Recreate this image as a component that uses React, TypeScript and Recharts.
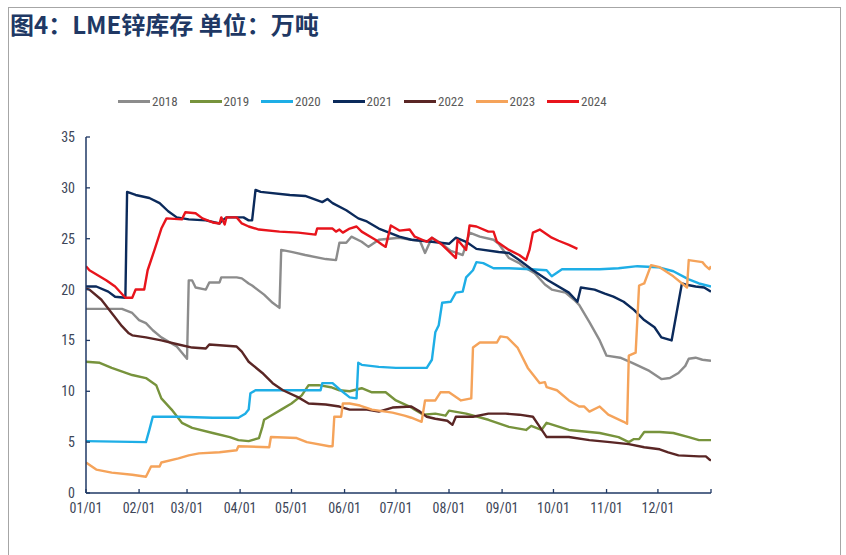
import React from "react";
import { LineChart, Line, XAxis, YAxis } from "recharts";

// ---- data: [day of year, value 万吨] ----
const s2018: number[][] = [[0,18.1],[21,18.1],[27,17.7],[31,17.0],[35,16.7],[39,16.0],[44,15.3],[53,14.4],[58,13.4],[59,13.2],[60,20.9],[62,20.9],[64,20.2],[70,20.0],[72,20.7],[78,20.7],[79,21.2],[88,21.2],[91,21.1],[95,20.6],[97,20.4],[104,19.5],[109,18.7],[113,18.2],[114,23.9],[120,23.7],[128,23.4],[140,23.0],[146,22.9],[148,24.6],[152,24.6],[155,25.2],[161,24.7],[165,24.2],[171,24.9],[183,25.1],[190,24.9],[195,24.8],[198,23.6],[202,25.1],[207,24.6],[213,23.8],[220,23.4],[224,25.6],[230,25.2],[238,24.9],[241,24.5],[247,23.1],[253,22.6],[256,22.2],[262,21.6],[268,20.5],[272,20.0],[280,19.7],[285,19.0],[288,18.5],[294,16.8],[300,15.0],[304,13.5],[312,13.3],[319,12.8],[329,12.0],[336,11.2],[341,11.3],[346,11.8],[350,12.5],[352,13.2],[356,13.3],[360,13.1],[365,13.0]];
const s2019: number[][] = [[0,12.9],[8,12.8],[15,12.3],[27,11.6],[35,11.3],[41,10.6],[44,9.3],[50,8.2],[56,6.9],[62,6.4],[74,5.9],[84,5.5],[89,5.2],[95,5.1],[101,5.4],[103,6.5],[104,7.2],[107,7.5],[114,8.2],[120,8.8],[126,9.6],[130,10.6],[136,10.6],[143,10.4],[148,10.1],[154,10.0],[161,10.3],[167,9.9],[175,9.9],[181,9.1],[189,8.5],[192,8.2],[197,7.7],[204,7.8],[210,7.6],[212,8.1],[222,7.8],[235,7.2],[247,6.5],[257,6.2],[260,6.6],[266,6.2],[269,6.9],[282,6.2],[300,5.9],[311,5.5],[317,5.0],[320,5.3],[323,5.3],[326,6.0],[335,6.0],[343,5.9],[352,5.5],[358,5.2],[365,5.2]];
const s2020: number[][] = [[0,5.1],[35,5.0],[37,6.2],[39,7.5],[54,7.5],[74,7.4],[89,7.4],[93,7.8],[95,8.2],[96,9.8],[99,10.1],[119,10.1],[128,10.1],[137,10.1],[138,10.8],[144,10.8],[148,10.2],[154,9.4],[158,9.3],[159,12.8],[161,12.6],[171,12.4],[181,12.3],[199,12.3],[202,13.1],[204,15.8],[206,16.5],[208,18.7],[213,18.8],[216,19.7],[220,19.8],[222,21.2],[226,21.9],[228,22.7],[232,22.6],[238,22.1],[247,22.1],[260,22.0],[269,21.9],[272,21.3],[278,22.0],[290,22.0],[300,22.0],[311,22.1],[322,22.3],[334,22.2],[343,21.8],[352,21.0],[358,20.6],[365,20.3]];
const s2021: number[][] = [[0,20.3],[6,20.3],[13,19.8],[17,19.3],[23,19.2],[24,29.6],[29,29.3],[37,29.0],[43,28.5],[48,27.7],[53,27.1],[60,26.9],[70,26.8],[78,26.5],[79,26.7],[82,27.1],[92,27.1],[95,26.8],[97,26.8],[99,29.8],[102,29.6],[119,29.3],[128,29.2],[138,28.6],[141,28.9],[144,28.5],[152,27.8],[159,27.0],[164,26.7],[171,26.0],[177,25.6],[183,25.2],[190,24.9],[202,24.7],[212,24.5],[216,25.1],[222,24.7],[228,24.0],[241,23.7],[247,23.6],[253,22.9],[261,21.9],[270,20.9],[282,19.7],[287,18.8],[289,20.2],[297,20.0],[303,19.6],[308,19.3],[314,18.8],[320,18.0],[326,17.0],[332,16.3],[336,15.3],[342,15.0],[348,20.6],[350,20.5],[356,20.3],[361,20.2],[365,19.8]];
const s2022: number[][] = [[0,20.1],[2,20.0],[9,19.0],[15,17.7],[21,16.4],[25,15.7],[27,15.5],[35,15.3],[44,15.0],[54,14.6],[62,14.3],[70,14.2],[72,14.6],[88,14.4],[91,13.9],[95,12.9],[103,11.8],[109,10.8],[115,10.1],[124,9.4],[130,8.8],[140,8.7],[148,8.5],[154,8.2],[164,8.2],[171,8.0],[179,8.4],[190,8.5],[195,8.0],[199,7.5],[204,7.3],[211,7.1],[214,6.7],[216,7.5],[226,7.5],[235,7.8],[245,7.8],[253,7.7],[261,7.5],[265,6.5],[269,5.5],[282,5.5],[294,5.2],[306,5.0],[317,4.8],[326,4.5],[335,4.3],[340,4.0],[346,3.7],[358,3.6],[362,3.6],[364,3.3],[365,3.2]];
const s2023: number[][] = [[0,3.0],[6,2.3],[15,2.0],[27,1.8],[35,1.6],[38,2.6],[43,2.6],[44,3.0],[54,3.4],[60,3.7],[66,3.9],[78,4.0],[88,4.2],[89,4.6],[107,4.5],[108,5.5],[123,5.4],[129,5.0],[142,4.6],[144,4.6],[145,7.5],[149,7.5],[150,8.8],[154,8.8],[160,8.6],[167,8.2],[179,7.9],[186,7.6],[190,7.4],[196,7.0],[198,9.1],[204,9.1],[207,9.9],[212,9.9],[219,9.1],[225,9.3],[226,14.3],[230,14.8],[240,14.8],[242,15.4],[246,15.3],[252,14.3],[258,12.3],[265,10.8],[268,10.9],[269,10.4],[275,10.1],[282,9.1],[288,8.5],[291,8.5],[294,8.0],[300,8.5],[305,7.7],[314,7.0],[316,6.8],[317,13.5],[321,13.8],[323,20.4],[326,20.6],[330,22.4],[335,22.2],[343,21.3],[351,20.2],[352,22.9],[360,22.7],[362,22.3],[364,22.0],[365,22.3]];
const s2024: number[][] = [[0,22.3],[2,21.9],[12,20.9],[17,20.3],[23,19.2],[27,19.2],[29,20.0],[34,20.0],[36,21.9],[40,23.9],[44,26.0],[47,27.0],[56,26.9],[58,27.6],[64,27.5],[68,27.0],[74,26.6],[78,26.5],[79,27.1],[81,26.4],[82,27.1],[88,27.1],[91,26.5],[95,26.2],[101,25.9],[113,25.7],[124,25.6],[134,25.4],[135,26.0],[144,26.0],[146,25.7],[148,25.9],[150,25.6],[154,26.0],[158,26.2],[161,25.7],[169,24.9],[173,24.4],[175,24.2],[178,26.3],[183,25.8],[189,25.9],[192,25.2],[199,24.7],[202,25.1],[208,24.4],[216,23.1],[217,24.9],[222,23.9],[224,26.3],[228,26.2],[235,25.7],[238,25.7],[240,24.7],[247,23.9],[253,23.4],[257,22.9],[259,23.9],[261,25.6],[265,25.9],[272,25.1],[276,24.8],[282,24.4],[287,24.0]];

const seriesNames = ["2018", "2019", "2020", "2021", "2022", "2023", "2024"];
const seriesValues = [s2018, s2019, s2020, s2021, s2022, s2023, s2024];
const seriesColors = ["#8c8c8c", "#77933c", "#1eaee6", "#0b2a5b", "#5a2625", "#f5a35a", "#e8141c"];

const monthTicks = [0, 31, 59, 90, 120, 151, 181, 212, 243, 273, 304, 334, 365];
const monthLabels = ["01/01", "02/01", "03/01", "04/01", "05/01", "06/01", "07/01", "08/01", "09/01", "10/01", "11/01", "12/01", ""];
const yTicks = [0, 5, 10, 15, 20, 25, 30, 35];

const title = "图4：LME锌库存 单位：万吨";

const AXIS = "#1f3864";
const LABEL = "#3d4658";
const NUMFONT = "'Liberation Sans Narrow', 'Roboto Condensed', 'Liberation Sans', Arial, sans-serif";

const XTick = (props: any) => {
  const { x, y, payload } = props;
  const idx = monthTicks.indexOf(payload.value);
  return (
    <g>
      <line x1={x} x2={x} y1={y} y2={y - 4} stroke={AXIS} strokeWidth={1.3} />
      <text x={x} y={y + 20} textAnchor="middle" fill={LABEL} fontSize={14} fontFamily={NUMFONT}>
        {monthLabels[idx]}
      </text>
    </g>
  );
};

const YTick = (props: any) => {
  const { x, y, payload } = props;
  return (
    <g>
      <line x1={x} x2={x + 4} y1={y} y2={y} stroke={AXIS} strokeWidth={1.3} />
      <text x={x - 11} y={y + 5} textAnchor="end" fill={LABEL} fontSize={14} fontFamily={NUMFONT}>
        {payload.value}
      </text>
    </g>
  );
};

export default function App() {
  const series = seriesNames.map((name, i) => ({
    name,
    color: seriesColors[i],
    data: seriesValues[i].map(([d, v]) => ({ d, v })),
  }));
  return (
    <div style={{ position: "absolute", left: 0, top: 0, width: 846, height: 555, background: "#fff", overflow: "hidden" }}>
      <div style={{ position: "absolute", left: 8, top: 7, width: 833, height: 560, border: "1px solid #a6a6a6", boxSizing: "border-box" }} />
      <div
        style={{
          position: "absolute",
          left: 10,
          top: 10,
          fontFamily: "'Noto Sans CJK SC', 'Noto Sans', sans-serif",
          fontWeight: 700,
          fontSize: 24,
          lineHeight: "27px",
          color: "#203864",
          whiteSpace: "nowrap",
        }}
      >
        {title}
      </div>
      <div style={{ position: "absolute", left: 118, top: 92, height: 18, display: "flex", alignItems: "center" }}>
        {series.map((s) => (
          <div key={s.name} style={{ width: 71.5, display: "flex", alignItems: "center" }}>
            <div style={{ width: 32, height: 3, background: s.color }} />
            <span style={{ marginLeft: 2, fontFamily: NUMFONT, fontSize: 13, color: "#595959" }}>{s.name}</span>
          </div>
        ))}
      </div>
      <div style={{ position: "absolute", left: 0, top: 0 }}>
        <LineChart width={846} height={555} margin={{ top: 137, right: 135, bottom: 32, left: 46 }}>
          <XAxis
            type="number"
            dataKey="d"
            domain={[0, 365]}
            ticks={monthTicks}
            interval={0}
            allowDataOverflow
            height={30}
            axisLine={{ stroke: AXIS, strokeWidth: 1.5 }}
            tickLine={false}
            tickSize={0}
            tickMargin={0}
            tick={<XTick />}
          />
          <YAxis
            type="number"
            domain={[0, 35]}
            ticks={yTicks}
            interval={0}
            width={40}
            axisLine={{ stroke: AXIS, strokeWidth: 1.5 }}
            tickLine={false}
            tickSize={0}
            tickMargin={0}
            tick={<YTick />}
          />
          {series.map((s) => (
            <Line
              key={s.name}
              data={s.data}
              dataKey="v"
              name={s.name}
              type="linear"
              stroke={s.color}
              strokeWidth={2.4}
              dot={false}
              activeDot={false}
              isAnimationActive={false}
              strokeLinejoin="round"
            />
          ))}
        </LineChart>
      </div>
    </div>
  );
}
